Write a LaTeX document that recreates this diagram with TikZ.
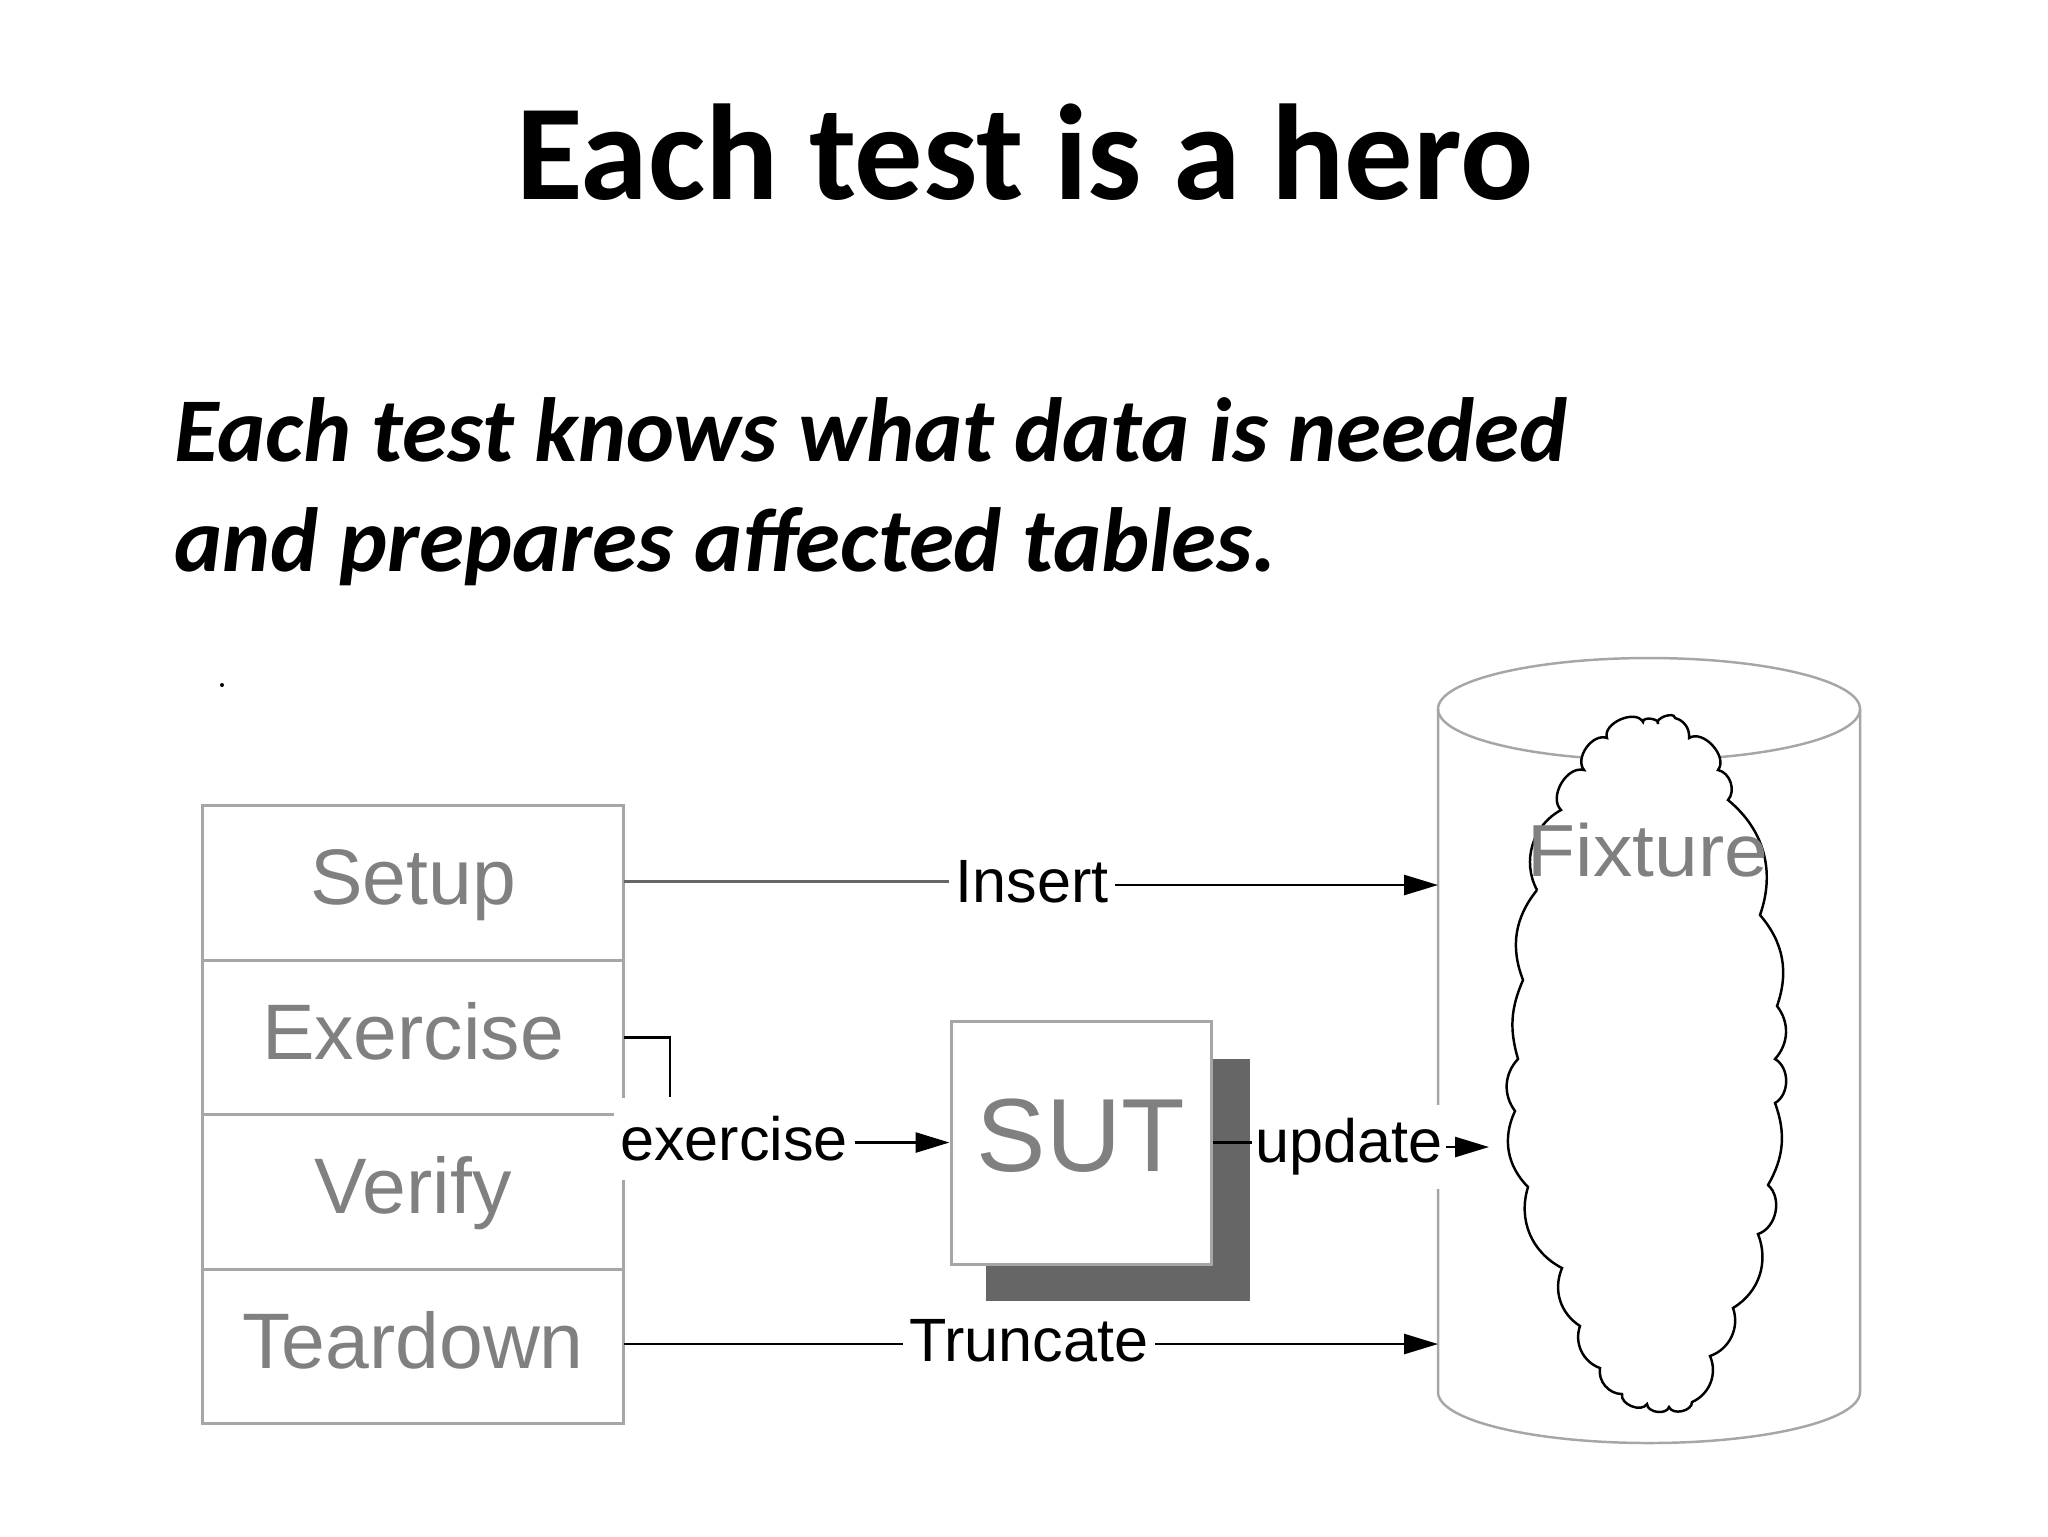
\documentclass[tikz,border=0pt]{standalone}
\usepackage{fontspec}
\setmainfont{Carlito}
\newfontfamily\diagramfont{Liberation Sans}
\usetikzlibrary{positioning,arrows.meta}

\begin{document}
\begin{tikzpicture}[x=.1mm,y=-.1mm,
    headline/.style={font=\fontsize{38.8}{46}\selectfont\bfseries,inner sep=0,anchor=base},
    subline/.style={font=\fontsize{25.93}{31}\selectfont\bfseries\itshape,inner sep=0,anchor=base west},
    phase/.style={draw=black!35,line width=.85pt,outer sep=0,minimum width=42.15mm,minimum height=15.45mm,
      inner sep=0,text height=6mm,text depth=1.65mm,text=black!50,font=\diagramfont\fontsize{22.4}{26}\selectfont},
    flowlabel/.style={fill=white,inner xsep=.6mm,inner ysep=0,font=\diagramfont\fontsize{17.4}{20}\selectfont},
    wire/.style={line width=.75pt},
    flow/.style={wire,-{Stealth[length=3.4mm,width=2mm,inset=0pt]}},
    tank/.style={draw=black!35,line width=.7pt}]
  \useasboundingbox (0,0) rectangle (2048,1536);
  \node[headline] (title) at (1024.6,199) {Each test is a hero};
  \node[subline] (lineone) at (174,461) {Each test knows what data is needed};
  \node[subline] (linetwo) at (174,571) {and prepares affected tables.};
  \fill (222,685) circle (2);

  % test phases
  \node[phase] (setup) at (413,883) {Setup};
  \node[phase,below=0 of setup] (exercise) {Exercise};
  \node[phase,below=0 of exercise] (verify) {Verify};
  \node[phase,below=0 of verify] (teardown) {Teardown};

  % system under test
  \node[fill=black!60,minimum width=26.4mm,minimum height=24.2mm,inner sep=0] (shadow) at (1118,1180) {};
  \node[draw=black!35,fill=white,line width=.85pt,minimum width=26mm,minimum height=24.3mm,inner sep=0,
    text height=8mm,text depth=2.2mm,text=black!50,font=\diagramfont\fontsize{29.6}{34}\selectfont] (sut) at (1081,1142.5) {SUT};

  % database
  \draw[tank] (1649,709) ellipse (21.1mm and 5.1mm);
  \draw[tank] (1438,709) -- (1438,1392) arc (180:360:21.1mm and 5.1mm) -- (1860,709);
  \draw[fill=white,line width=.7pt] (1537,890)
    \foreach \cx/\cy/\puff in {1561/810/45,1584/770/75,1607/738/75,1643/722/85,1658/724/105,1675/718/105,
      1689/738/40,1718/770/80,1728/800/60,1760/915/35,1777/1006/30,1775/1059/40,1775/1103/60,1768/1185/25,
      1758/1234/60,1733/1308/40,1710/1356/45,1692/1402/45,1669/1407/80,1647/1404/80,1622/1394/80,1600/1368/50,
      1580/1326/45,1562/1268/40,1528/1187/40,1515/1111/35,1518/1059/40,1523/980/20,1537/890/30}
      { to[bend left=\puff] (\cx,\cy) };
  \node[text=black!50,font=\diagramfont\fontsize{21}{26}\selectfont] (fixture) at (1648,850) {\scalebox{1.065}[1]{Fixture}};
  \coordinate (insertend) at (1438,885);
  \coordinate (truncend) at (1438,1344);
  \coordinate (updateend) at (1489,1147);

  \node[flowlabel] (insert) at (1032,881.5) {Insert};
  \node[flowlabel,minimum height=8.2mm] (exerciselabel) at (734,1139) {exercise};
  \node[flowlabel,minimum height=8.4mm,inner xsep=.3mm] (update) at (1349,1146.5) {update};
  \node[flowlabel] (truncate) at (1029,1341) {Truncate};

  \draw[wire,draw=black!60,line width=1.1pt] (setup.east |- insert) -- (insert);
  \draw[flow] (insert.east |- insertend) -- (insertend);
  \draw[wire] (exercise.east) -| ([xshift=-6.4mm]exerciselabel.north);
  \draw[flow] (exerciselabel.east |- sut) -- (sut.west);
  \draw[wire] (sut.east) -- (update.west |- sut);
  \draw[flow] (update.east |- updateend) -- (updateend);
  \draw[wire] (teardown.east |- truncend) -- (truncate.west |- truncend);
  \draw[flow] (truncate.east |- truncend) -- (truncend);
\end{tikzpicture}
\end{document}
